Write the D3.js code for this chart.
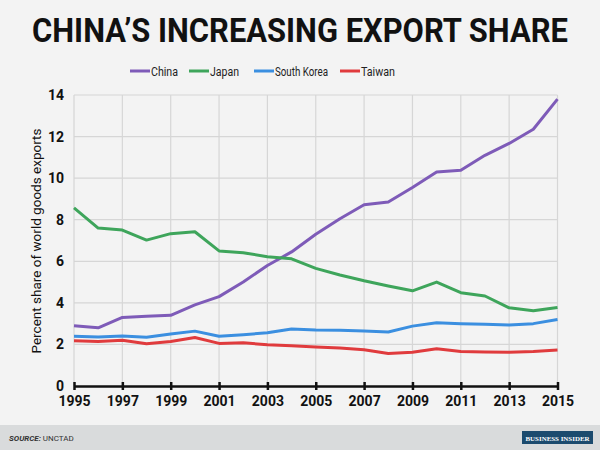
<!DOCTYPE html>
<html><head><meta charset="utf-8">
<script src="https://cdn.jsdelivr.net/npm/d3@7"></script>
<style>
body{margin:0;background:#f3f3f3;}
svg{display:block;font-family:Roboto,"Noto Sans",sans-serif;}
</style></head><body>
<svg id="c" width="600" height="450"></svg>
<script>
const years = d3.range(1995, 2016);
const china  = [2.9,2.8,3.3,3.35,3.4,3.9,4.3,5.0,5.8,6.45,7.3,8.05,8.72,8.85,9.55,10.3,10.38,11.1,11.67,12.35,13.8];
const japan  = [8.57,7.6,7.5,7.02,7.33,7.42,6.5,6.41,6.22,6.12,5.66,5.34,5.06,4.81,4.58,5.0,4.49,4.33,3.76,3.62,3.78];
const korea  = [2.39,2.36,2.4,2.35,2.5,2.64,2.39,2.47,2.56,2.74,2.69,2.68,2.65,2.6,2.88,3.04,3.0,2.97,2.93,3.0,3.2];
const taiwan = [2.18,2.14,2.2,2.03,2.14,2.33,2.05,2.08,1.98,1.94,1.88,1.83,1.74,1.56,1.62,1.79,1.66,1.64,1.62,1.66,1.73];
const seriesNames = ["China","Japan","South Korea","Taiwan"];
const seriesColors = ["#7e5bb8","#3ea55b","#3b8fe0","#e03b3d"];
const seriesValues = [china, japan, korea, taiwan];
const yTicks = [0,2,4,6,8,10,12,14];
const xTicks = [1995,1997,1999,2001,2003,2005,2007,2009,2011,2013,2015];

const svg = d3.select("#c");
svg.append("rect").attr("width",600).attr("height",450).attr("fill","#f3f3f3");

const x = d3.scaleLinear().domain([1995,2015]).range([74,557.5]);
const y = d3.scaleLinear().domain([0,14]).range([386,95]);

// footer
svg.append("rect").attr("x",0).attr("y",425).attr("width",600).attr("height",25).attr("fill","#d9dbdc");
const src = svg.append("text").attr("x",9).attr("y",441).attr("font-size",8).attr("fill","#333");
src.append("tspan").attr("font-weight","bold").attr("font-style","italic").text("SOURCE: ");
src.append("tspan").text("UNCTAD");
svg.append("rect").attr("x",522).attr("y",431).attr("width",71).attr("height",13).attr("fill","#1c4b6e");
svg.append("text").attr("x",557.5).attr("y",440.5).attr("text-anchor","middle").attr("font-size",7)
  .attr("font-family","Liberation Serif,serif").attr("font-weight","bold").attr("fill","#fff")
  .attr("textLength",64).attr("lengthAdjust","spacingAndGlyphs").text("BUSINESS INSIDER");

// title (horizontally condensed by scaling to the reference width)
const titleG = svg.append("g");
const title = titleG.append("text").attr("x",0).attr("y",0).attr("text-anchor","middle")
  .attr("font-size",33).attr("font-weight","bold").attr("fill","#111")
  .text("CHINA’S INCREASING EXPORT SHARE");
const tw = title.node().getComputedTextLength();
titleG.attr("transform",`translate(300,42) scale(${536/tw},1)`);

// legend
const legX = [130,189,254,340];
const legW = [48,50,76,55];
seriesNames.forEach((n,i)=>{
  const g = svg.append("g").attr("transform",`translate(${legX[i]},71)`);
  g.append("line").attr("x1",0).attr("x2",20).attr("y1",0).attr("y2",0).attr("stroke",seriesColors[i]).attr("stroke-width",3);
  g.append("text").attr("x",21).attr("y",4.5).attr("font-size",12.5).attr("fill","#222")
    .attr("textLength",legW[i]-21+ (i==2?-2:0)).attr("lengthAdjust","spacingAndGlyphs").text(n);
});

// grid
const grid = svg.append("g");
yTicks.filter(t=>t>0).forEach(t=>{
  grid.append("line").attr("x1",x(1995)).attr("x2",x(2015)).attr("y1",y(t)).attr("y2",y(t))
    .attr("stroke","#d6d6d6").attr("stroke-width",1.2);
});
xTicks.forEach(t=>{
  grid.append("line").attr("x1",x(t)).attr("x2",x(t)).attr("y1",y(0)).attr("y2",y(14))
    .attr("stroke","#d6d6d6").attr("stroke-width",1.2);
});

// y axis labels
const yAxis = d3.axisLeft(y).tickValues(yTicks).tickSize(0).tickPadding(10);
const ya = svg.append("g").attr("transform",`translate(${x(1995)},0)`).call(yAxis);
ya.select(".domain").remove();
ya.selectAll("text").attr("font-size",14).attr("font-weight","bold").attr("fill","#111").attr("font-family","Roboto,sans-serif");

svg.append("text").attr("transform",`translate(41,241) rotate(-90)`).attr("text-anchor","middle")
  .attr("font-size",13.5).attr("fill","#111").text("Percent share of world goods exports");

// lines
const line = d3.line().x((d,i)=>x(years[i])).y(d=>y(d));
seriesValues.forEach((vals,i)=>{
  svg.append("path").datum(vals).attr("d",line).attr("fill","none")
    .attr("stroke",seriesColors[i]).attr("stroke-width",3).attr("stroke-linejoin","round");
});

// x axis
const xAxis = d3.axisBottom(x).tickValues(xTicks).tickFormat(d3.format("d")).tickSizeInner(4).tickSizeOuter(0).tickPadding(6);
const xa = svg.append("g").attr("transform",`translate(0,${y(0)})`).call(xAxis);
xa.select(".domain").attr("stroke","#111").attr("stroke-width",2.5);
xa.selectAll(".tick line").attr("stroke","#111").attr("stroke-width",2.5).attr("y1",-4).attr("y2",4);
xa.selectAll("text").attr("font-size",14).attr("font-weight","bold").attr("fill","#111").attr("font-family","Roboto,sans-serif");
</script>
</body></html>
